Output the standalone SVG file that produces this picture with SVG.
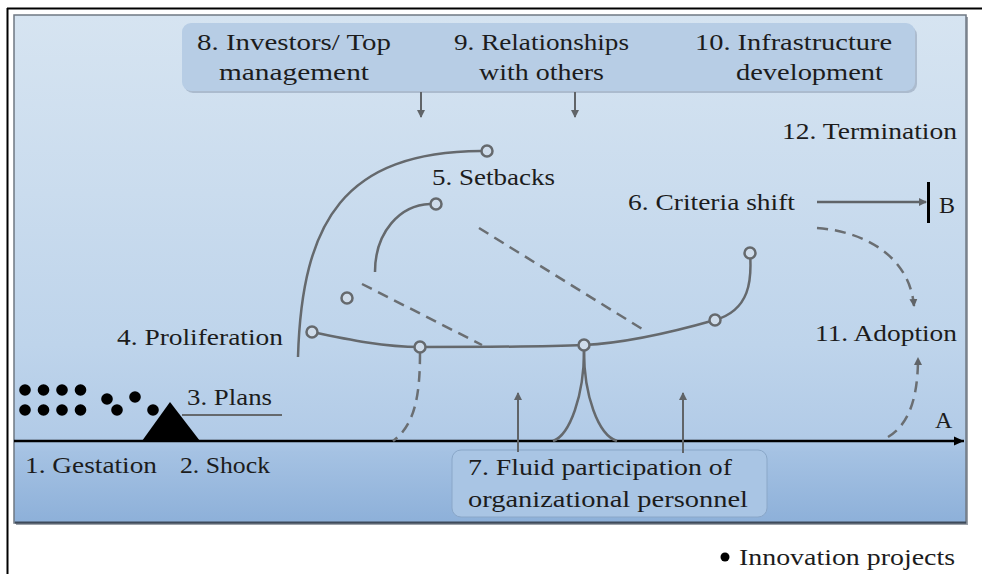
<svg xmlns="http://www.w3.org/2000/svg" width="982" height="574" viewBox="0 0 982 574">
<defs>
<linearGradient id="bg" x1="0" y1="0" x2="0" y2="1">
<stop offset="0" stop-color="#d6e4f1"/>
<stop offset="0.35" stop-color="#cadcee"/>
<stop offset="0.65" stop-color="#bed4eb"/>
<stop offset="0.83" stop-color="#b2cbe7"/>
<stop offset="0.86" stop-color="#a5c2e3"/>
<stop offset="1" stop-color="#8db0d9"/>
</linearGradient>
<marker id="ah" markerWidth="9" markerHeight="9" refX="7" refY="4.5" orient="auto" markerUnits="userSpaceOnUse">
<path d="M0,0.5 L8,4.5 L0,8.5 z" fill="#606468"/>
</marker>
<marker id="axh" markerWidth="12" markerHeight="12" refX="10" refY="6" orient="auto" markerUnits="userSpaceOnUse">
<path d="M0,1.5 L10,6 L0,10.5 z" fill="#000"/>
</marker>
<style>
.t{font-family:"Liberation Serif",serif;font-size:24px;fill:#1c1c1c}
.c{fill:none;stroke:#65696d;stroke-width:2.5}
.d{fill:none;stroke:#6a6e72;stroke-width:2.5;stroke-dasharray:11 7}
.o{fill:#cfdcea;stroke:#65696d;stroke-width:2.5}
.dot{fill:#000}
</style>
</defs>

<!-- outer frame -->
<line x1="7" y1="8.5" x2="982" y2="8.5" stroke="#000" stroke-width="2"/>
<line x1="7.5" y1="8" x2="7.5" y2="574" stroke="#000" stroke-width="2"/>

<!-- panel -->
<g id="panel">
<rect x="16" y="17" width="952" height="508" fill="#5a6472" opacity="0.6"/>
<rect x="14" y="15" width="952" height="508" fill="url(#bg)" stroke="#6f7883" stroke-width="1.5"/>
<line x1="15" y1="522.5" x2="966" y2="522.5" stroke="#3e4a5a" stroke-width="2"/>
</g>

<!-- top box -->
<g id="top-box">
<rect x="184" y="26" width="733" height="67" rx="9" fill="#8c9db2" opacity="0.55"/>
<rect x="182" y="23" width="733" height="68" rx="9" fill="#b7cde5"/>
</g>
<g id="n8">
<text class="t" x="197" y="50" textLength="194" lengthAdjust="spacingAndGlyphs">8. Investors/ Top</text>
<text class="t" x="219" y="80" textLength="150" lengthAdjust="spacingAndGlyphs">management</text>
</g>
<g id="n9">
<text class="t" x="454" y="50" textLength="175" lengthAdjust="spacingAndGlyphs">9. Relationships</text>
<text class="t" x="479" y="80" textLength="125" lengthAdjust="spacingAndGlyphs">with others</text>
</g>
<g id="n10">
<text class="t" x="695" y="50" textLength="197" lengthAdjust="spacingAndGlyphs">10. Infrastructure</text>
<text class="t" x="736" y="80" textLength="147" lengthAdjust="spacingAndGlyphs">development</text>
</g>

<!-- bottom box -->
<g id="n7">
<rect x="452" y="450" width="315" height="67" rx="9" fill="#a9c5e4" stroke="#8aa7c8" stroke-width="1"/>
<text class="t" x="468" y="475" textLength="264" lengthAdjust="spacingAndGlyphs">7. Fluid participation of</text>
<text class="t" x="468" y="507" textLength="280" lengthAdjust="spacingAndGlyphs">organizational personnel</text>
</g>

<g id="n12"><text class="t" x="782" y="139" textLength="175" lengthAdjust="spacingAndGlyphs">12. Termination</text></g>
<g id="n5"><text class="t" x="432" y="185" textLength="123" lengthAdjust="spacingAndGlyphs">5. Setbacks</text></g>
<g id="n6"><text class="t" x="628" y="210" textLength="167" lengthAdjust="spacingAndGlyphs">6. Criteria shift</text></g>
<g id="nB"><text class="t" x="939" y="213">B</text></g>
<g id="n4"><text class="t" x="117" y="345" textLength="166" lengthAdjust="spacingAndGlyphs">4. Proliferation</text></g>
<g id="n11"><text class="t" x="815" y="341" textLength="142" lengthAdjust="spacingAndGlyphs">11. Adoption</text></g>
<g id="n3">
<text class="t" x="187" y="405" textLength="85" lengthAdjust="spacingAndGlyphs">3. Plans</text>
<line x1="182" y1="415" x2="282" y2="415" stroke="#65696d" stroke-width="2"/>
</g>
<g id="nA"><text class="t" x="935" y="428">A</text></g>
<g id="n1"><text class="t" x="25" y="473" textLength="132" lengthAdjust="spacingAndGlyphs">1. Gestation</text></g>
<g id="n2"><text class="t" x="180" y="473" textLength="90" lengthAdjust="spacingAndGlyphs">2. Shock</text></g>
<g id="legend">
<circle cx="725" cy="557" r="4.5" fill="#000"/>
<text class="t" x="739" y="565" textLength="216" lengthAdjust="spacingAndGlyphs">Innovation projects</text>
</g>

<!-- projects (dots) and shock -->
<g id="projects">
<circle class="dot" cx="25" cy="390" r="5.8"/>
<circle class="dot" cx="43.5" cy="390" r="5.8"/>
<circle class="dot" cx="62" cy="390" r="5.8"/>
<circle class="dot" cx="80.5" cy="390" r="5.8"/>
<circle class="dot" cx="107" cy="399" r="5.8"/>
<circle class="dot" cx="135" cy="397" r="5.8"/>
<circle class="dot" cx="25" cy="410" r="5.8"/>
<circle class="dot" cx="43.5" cy="410" r="5.8"/>
<circle class="dot" cx="62" cy="410" r="5.8"/>
<circle class="dot" cx="80.5" cy="410" r="5.8"/>
<circle class="dot" cx="117" cy="410" r="5.8"/>
<circle class="dot" cx="153" cy="410" r="5.8"/>
</g>
<g id="shock"><path d="M170,402 L142,441 L200,441 z" fill="#000"/></g>

<!-- connectors -->
<g id="connectors">
<line x1="14" y1="441" x2="964" y2="441" stroke="#000" stroke-width="2.5" marker-end="url(#axh)"/>
<line x1="421" y1="92" x2="421" y2="117" stroke="#606468" stroke-width="2" marker-end="url(#ah)"/>
<line x1="575" y1="92" x2="575" y2="117" stroke="#606468" stroke-width="2" marker-end="url(#ah)"/>
<line x1="518" y1="452" x2="518" y2="393" stroke="#606468" stroke-width="2" marker-end="url(#ah)"/>
<line x1="683" y1="453" x2="683" y2="393" stroke="#606468" stroke-width="2" marker-end="url(#ah)"/>
<line x1="817" y1="202" x2="926" y2="202" stroke="#606468" stroke-width="2.5" marker-end="url(#ah)"/>
<line x1="928.5" y1="182" x2="928.5" y2="223" stroke="#000" stroke-width="3"/>
<path class="c" d="M298,357 C302,220 345,152 481,151"/>
<path class="c" d="M375,272 C375,232 400,205 430,204"/>
<path class="c" d="M312,332 C350,340 385,347 420,347 S540,347 584,345 S680,330 715,320 S752,280 750,253"/>
<path class="c" d="M584,351 C584,395 570,435 553,441"/>
<path class="c" d="M584,351 C584,395 598,435 617,441"/>
<path class="d" d="M362,284 L482,345"/>
<path class="d" d="M479,228 L647,332"/>
<path class="d" d="M420,353 C420,395 415,425 393,441"/>
<path class="d" d="M817,228 C870,232 910,260 914,306" marker-end="url(#ah)"/>
<path class="d" d="M888,437 C908,425 918,400 918,358" marker-end="url(#ah)"/>
<circle class="o" cx="487" cy="151" r="5.5"/>
<circle class="o" cx="436" cy="204" r="5.5"/>
<circle class="o" cx="347" cy="298" r="5.5"/>
<circle class="o" cx="312" cy="332" r="5.5"/>
<circle class="o" cx="420" cy="347" r="5.5"/>
<circle class="o" cx="584" cy="345" r="5.5"/>
<circle class="o" cx="715" cy="320" r="5.5"/>
<circle class="o" cx="750" cy="253" r="5.5"/>
</g>
</svg>
